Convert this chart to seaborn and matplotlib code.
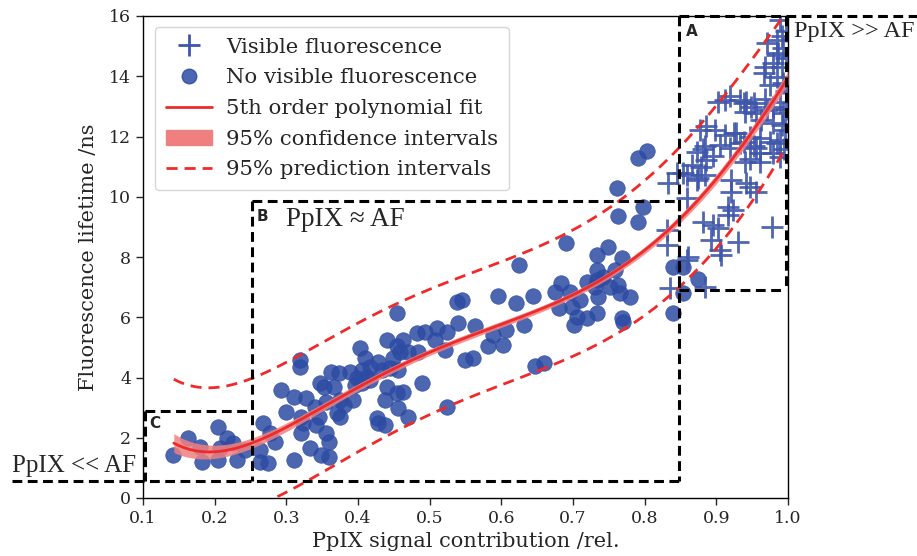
import matplotlib
matplotlib.use("Agg")
import matplotlib.pyplot as plt
import seaborn as sns
import numpy as np
import pandas as pd
from matplotlib.lines import Line2D
from matplotlib.patches import Patch

# ---------------- data ----------------
no_vis_x = [0.142, 0.163, 0.180, 0.182, 0.205, 0.207, 0.205, 0.217, 0.226, 0.231, 0.242, 0.263,
            0.274, 0.268, 0.263, 0.284, 0.277, 0.293, 0.300, 0.323,
            0.454, 0.319, 0.319, 0.440, 0.463, 0.482, 0.493, 0.510, 0.507, 0.524, 0.521, 0.403,
            0.410, 0.454, 0.459, 0.470, 0.484, 0.449, 0.428, 0.417, 0.405, 0.433, 0.445, 0.456,
            0.363, 0.373, 0.389, 0.398, 0.412, 0.347, 0.352, 0.366, 0.396, 0.405, 0.417, 0.440,
            0.489, 0.463, 0.454, 0.438, 0.310, 0.328, 0.356, 0.375, 0.393, 0.380, 0.456, 0.470,
            0.524, 0.340, 0.370, 0.375, 0.345, 0.321, 0.426, 0.428, 0.438, 0.342, 0.321, 0.356,
            0.359, 0.333, 0.349, 0.359, 0.310,
            0.690, 0.625, 0.538, 0.545, 0.596, 0.621, 0.644, 0.675, 0.683, 0.696, 0.710, 0.719,
            0.733, 0.733, 0.733, 0.735, 0.680, 0.698, 0.705, 0.701, 0.719, 0.733, 0.540, 0.563,
            0.589, 0.607, 0.631, 0.582, 0.603, 0.549, 0.561, 0.647, 0.659,
            0.803, 0.791, 0.761, 0.798, 0.763, 0.791, 0.749, 0.768, 0.759, 0.742, 0.763, 0.752,
            0.766, 0.780, 0.768, 0.770, 0.840, 0.854, 0.854, 0.840, 0.875, 0.731]
no_vis_y = [1.43, 1.99, 1.70, 1.20, 2.37, 1.66, 1.26, 1.99, 1.82, 1.26, 1.59, 1.21,
            1.17, 2.48, 1.59, 1.87, 2.15, 3.59, 2.86, 2.48,
            6.13, 4.58, 4.36, 5.24, 5.24, 5.47, 5.52, 5.63, 5.24, 5.52, 4.91, 4.97,
            4.64, 5.03, 4.86, 4.86, 4.86, 4.64, 4.52, 4.36, 4.25, 4.25, 4.31, 4.25,
            4.19, 4.14, 4.19, 3.97, 4.03, 3.81, 3.69, 3.69, 3.75, 3.81, 3.92, 3.69,
            3.81, 3.53, 3.48, 3.25, 3.36, 3.31, 3.20, 3.25, 3.25, 3.09, 2.98, 2.70,
            3.03, 3.03, 2.81, 2.70, 2.70, 2.70, 2.65, 2.48, 2.42, 2.42, 2.15, 2.15,
            1.87, 1.65, 1.43, 1.37, 1.26,
            8.48, 7.73, 6.52, 6.57, 6.71, 6.46, 6.71, 6.85, 7.13, 6.85, 6.57, 7.18,
            8.07, 7.57, 7.24, 6.68, 6.30, 6.35, 6.02, 5.74, 5.97, 6.13, 5.80, 5.71,
            5.41, 5.58, 5.74, 5.05, 5.08, 4.58, 4.64, 4.38, 4.49,
            11.53, 11.28, 10.28, 9.67, 9.36, 9.17, 8.34, 7.96, 7.57, 7.35, 7.07, 7.01,
            6.80, 6.68, 5.97, 5.85, 7.68, 7.68, 6.80, 6.13, 7.26, 7.01]

vis_x = [0.989, 0.970, 0.984, 0.984, 0.993, 0.979, 0.991, 0.968, 0.966, 0.984, 0.993, 0.975,
         0.912, 0.933, 0.942, 0.949, 0.940, 0.956, 0.970, 0.979, 0.989, 0.993, 0.963, 0.979,
         0.991, 0.877, 0.898, 0.928, 0.947, 0.961, 0.938, 0.975, 0.989, 0.905, 0.919, 0.956,
         0.979, 0.989, 0.873, 0.886, 0.940, 0.961, 0.903, 0.912, 0.933, 0.952, 0.961, 0.884,
         0.866, 0.991, 0.986, 0.919, 0.938, 0.952, 0.968, 0.886, 0.924, 0.882, 0.896, 0.947,
         0.984, 0.997, 0.997, 0.997, 0.997, 0.996, 0.995,
         0.845, 0.859, 0.879, 0.875, 0.921, 0.942, 0.956, 0.833, 0.884, 0.921, 0.947, 0.859,
         0.916, 0.923, 0.916, 0.882, 0.896, 0.903, 0.977, 0.831, 0.893, 0.930, 0.905, 0.831,
         0.861, 0.907, 0.835, 0.884, 0.859, 0.854, 0.873]
vis_y = [15.87, 15.09, 15.20, 14.70, 14.93, 14.43, 14.32, 14.32, 14.10, 13.99, 13.77, 13.71,
         13.21, 13.21, 13.16, 12.99, 12.82, 12.77, 12.88, 12.99, 13.16, 12.77, 12.55, 12.44,
         12.38, 12.22, 12.22, 12.11, 12.00, 11.94, 11.83, 11.83, 11.88, 11.72, 11.61, 11.61,
         11.44, 11.33, 11.50, 11.22, 11.16, 11.16, 13.16, 12.05, 11.78, 11.67, 11.44, 11.67,
         11.06, 15.34, 14.78, 13.34, 13.12, 13.12, 13.23, 12.35, 12.13, 11.58, 11.35, 11.24,
         11.79, 15.50, 14.60, 13.50, 12.90, 12.20, 11.60,
         10.78, 10.72, 11.00, 10.61, 10.56, 10.45, 10.17, 10.45, 10.72, 10.17, 10.33, 9.95,
         9.67, 9.56, 9.39, 9.17, 9.06, 8.95, 9.01, 8.90, 8.56, 8.51, 8.23, 8.40,
         8.01, 8.07, 6.96, 7.01, 7.90, 10.78, 10.56]

fit_x = [0.143, 0.17, 0.193, 0.22, 0.25, 0.30, 0.35, 0.40, 0.45, 0.50, 0.55, 0.60,
         0.65, 0.70, 0.75, 0.80, 0.85, 0.90, 0.95, 1.00]
fit_y = [1.80, 1.62, 1.54, 1.60, 1.80, 2.28, 3.00, 3.70, 4.38, 4.85, 5.25, 5.72,
         6.20, 6.74, 7.45, 8.30, 9.25, 10.50, 12.20, 13.95]
ci_half = [0.32, 0.26, 0.22, 0.19, 0.17, 0.15, 0.13, 0.12, 0.11, 0.10, 0.10, 0.10,
           0.10, 0.10, 0.11, 0.12, 0.13, 0.15, 0.18, 0.22]
pi_upper = [3.92, 3.75, 3.67, 3.72, 3.94, 4.45, 5.20, 5.85, 6.40, 6.90, 7.40, 7.85,
            8.30, 8.84, 9.70, 10.60, 11.60, 13.00, 14.60, 16.20]
pi_lower = [-0.32, -0.50, -0.58, -0.52, -0.34, 0.15, 0.85, 1.55, 2.20, 2.78, 3.25, 3.72,
            4.25, 4.75, 5.25, 6.05, 7.05, 8.30, 9.85, 11.75]

# ---------------- figure ----------------
sns.set_style("ticks")
plt.rcParams['font.family'] = ['DejaVu Serif']
plt.rcParams['axes.linewidth'] = 1.0

fig = plt.figure(figsize=(9.17, 5.56), dpi=100)
ax = fig.add_axes([143/917, 58/556, 645/917, 482/556])

blue = '#2D4BA3'
red = '#EE2A2A'

xs = np.linspace(min(fit_x), max(fit_x), 300)
def smooth(vals):
    return np.polyval(np.polyfit(fit_x, vals, 5), xs)

df_curve = pd.DataFrame({'x': xs, 'fit': smooth(fit_y), 'up': smooth(pi_upper),
                         'lo': smooth(pi_lower), 'ci': smooth(ci_half)})
df_nv = pd.DataFrame({'x': no_vis_x, 'y': no_vis_y})
df_v = pd.DataFrame({'x': vis_x, 'y': vis_y})

ax.fill_between(df_curve['x'], df_curve['fit'] - df_curve['ci'], df_curve['fit'] + df_curve['ci'],
                color='#F08080', alpha=0.85, lw=0, zorder=3)
sns.scatterplot(data=df_nv, x='x', y='y', ax=ax, s=125, color=blue, alpha=0.85,
                edgecolor=blue, linewidth=0.5, zorder=2)
sns.scatterplot(data=df_v, x='x', y='y', ax=ax, s=240, marker='+', color='#3F56AA',
                linewidth=2.0, alpha=0.9, zorder=2)
sns.lineplot(data=df_curve, x='x', y='fit', ax=ax, color=red, lw=2, zorder=4, sort=False)
sns.lineplot(data=df_curve, x='x', y='up', ax=ax, color=red, lw=2, zorder=4, sort=False)
ax.lines[-1].set_dashes([4, 2.5])
sns.lineplot(data=df_curve, x='x', y='lo', ax=ax, color=red, lw=2, zorder=4, sort=False)
ax.lines[-1].set_dashes([4, 2.5])

ax.set_xlim(0.1, 1.0)
ax.set_ylim(0, 16)
ax.set_xticks([0.1, 0.2, 0.3, 0.4, 0.5, 0.6, 0.7, 0.8, 0.9, 1.0])
ax.set_xticklabels(['0.1', '0.2', '0.3', '0.4', '0.5', '0.6', '0.7', '0.8', '0.9', '1.0'])
ax.set_yticks([0, 2, 4, 6, 8, 10, 12, 14, 16])
ax.tick_params(labelsize=12.5, length=5, width=1)
ax.set_xlabel('PpIX signal contribution /rel.', fontsize=15, labelpad=4)
ax.set_ylabel('Fluorescence lifetime /ns', fontsize=15, labelpad=8)
for s in ax.spines.values():
    s.set_visible(True)
    s.set_color('black')

# dashed boxes
bk = dict(color='black', lw=2.2, dashes=[3.2, 1.8], clip_on=False, zorder=5)
# A
ax.plot([0.848, 0.848], [16, 6.9], **bk)
ax.plot([0.848, 1.18], [16, 16], **bk)
ax.plot([0.997, 0.997], [16, 6.9], **bk)
ax.plot([0.848, 0.997], [6.9, 6.9], **bk)
# B
ax.plot([0.252, 0.848], [9.85, 9.85], **bk)
ax.plot([0.252, 0.252], [9.85, 0.55], **bk)
ax.plot([0.848, 0.848], [9.85, 0.55], **bk)
ax.plot([-0.083, 0.848], [0.55, 0.55], **bk)
# C
ax.plot([0.103, 0.252], [2.9, 2.9], **bk)
ax.plot([0.103, 0.103], [2.9, 0.55], **bk)

sans_b = dict(fontfamily='DejaVu Sans', fontweight='bold', fontsize=11, zorder=6)
ax.text(0.857, 15.5, 'A', va='center', ha='left', **sans_b)
ax.text(0.259, 9.33, 'B', va='center', ha='left', **sans_b)
ax.text(0.109, 2.47, 'C', va='center', ha='left', **sans_b)

ax.text(0.300, 9.25, 'PpIX \u2248 AF', va='center', ha='left',
        fontfamily='Liberation Serif', fontsize=19.5)
ax.text(1.009, 15.47, 'PpIX >> AF', va='center', ha='left', clip_on=False,
        fontfamily='Liberation Serif', fontsize=17.5)
ax.text(-0.083, 1.05, 'PpIX << AF', va='center', ha='left', clip_on=False,
        fontfamily='Liberation Serif', fontsize=18)

handles = [
    Line2D([], [], marker='+', ls='none', color='#3F56AA', markersize=16, markeredgewidth=2),
    Line2D([], [], marker='o', ls='none', color=blue, markersize=10.5, alpha=0.85),
    Line2D([], [], color=red, lw=2),
    Patch(facecolor='#F08080', edgecolor='#F08080'),
    Line2D([], [], color=red, lw=2, dashes=[4, 2.5]),
]
labels = ['Visible fluorescence', 'No visible fluorescence', '5th order polynomial fit',
          '95% confidence intervals', '95% prediction intervals']
leg = ax.legend(handles, labels, loc='upper left', bbox_to_anchor=(0.0186, 0.977),
                borderaxespad=0, fontsize=15.3, frameon=True, handlelength=2.2,
                labelspacing=0.55, borderpad=0.5, handletextpad=0.65)
leg.get_frame().set_edgecolor('#cccccc')
leg.set_zorder(10)

fig.savefig('out.png', dpi=100)
